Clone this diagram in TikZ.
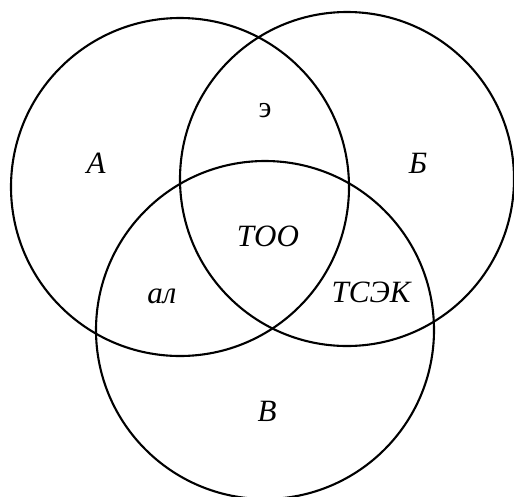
\documentclass[tikz,border=0pt]{standalone}
\usepackage{fontspec}
\setmainfont{Liberation Serif}
\begin{document}
\begin{tikzpicture}[x=1pt,y=-1pt,
  setc/.style={circle,draw=black,line width=2.1pt,inner sep=0pt},
  lbl/.style={font=\fontsize{31}{34}\selectfont\itshape,inner sep=0pt}]
\useasboundingbox (0,0) rectangle (514,496);
\node[setc,minimum size=338pt] (cA) at (180,187) {};
\node[setc,minimum size=334pt] (cB) at (347,179) {};
\node[setc,minimum size=338pt] (cC) at (265,330) {};
\node[lbl] (lA) at (96,163) {А};
\node[lbl] (lB) at (418,163) {Б};
\node[lbl] (lV) at (267,411) {В};
\node[lbl,font=\fontsize{30}{33}\selectfont] (le) at (265,111) {э};
\node[lbl] (lT) at (268,236) {ТОО};
\node[lbl] (la) at (162,296) {ал};
\node[lbl] (lK) at (371,292) {ТСЭК};
\end{tikzpicture}
\end{document}
